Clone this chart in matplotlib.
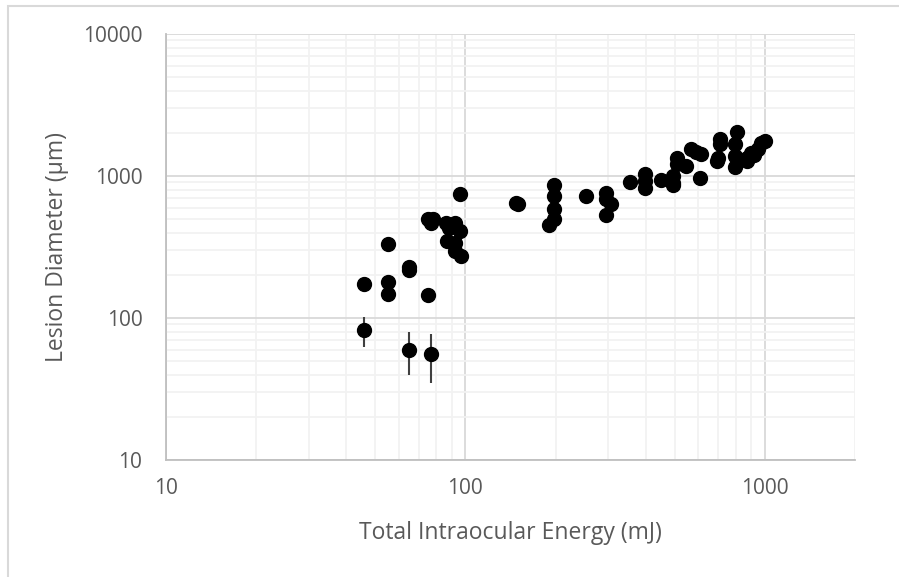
import numpy as np
import matplotlib.pyplot as plt
from matplotlib.patches import Rectangle
from matplotlib.ticker import LogLocator, FixedLocator, NullFormatter

# Total intraocular energy (mJ) and lesion diameter (um)
energy = [46, 65, 77, 46, 55, 55, 55, 65, 65, 75,
          75, 78, 77, 96, 86, 92, 88, 96, 87, 92,
          92, 97, 148, 150, 197, 197, 197, 198, 190, 252,
          295, 295, 306, 295, 355, 398, 398, 398, 449, 492,
          507, 507, 492, 492, 546, 567, 610, 607, 708, 708,
          693, 700, 809, 794, 794, 794, 869, 902, 950, 1000,
          973, 590, 870, 920]
diameter = [82, 60, 56, 173, 330, 178, 148, 230, 218, 145,
            494, 494, 470, 750, 468, 468, 430, 413, 348, 338,
            295, 272, 647, 630, 859, 721, 588, 502, 455, 721,
            753, 684, 630, 529, 906, 1026, 920, 826, 931, 887,
            1346, 1207, 1000, 860, 1175, 1542, 1420, 973, 1811, 1670,
            1273, 1346, 2040, 1670, 1383, 1163, 1273, 1459, 1559, 1760,
            1720, 1480, 1330, 1400]
diameter_err = [20, 20, 21, 20, 22, 0, 0, 0, 0, 16,
                30, 0, 0, 0, 0, 0, 0, 0, 0, 0,
                0, 0, 0, 0, 0, 0, 0, 0, 0, 0,
                0, 0, 0, 0, 0, 0, 0, 0, 0, 0,
                0, 0, 0, 0, 0, 0, 0, 0, 0, 0,
                0, 0, 0, 0, 0, 0, 0, 0, 0, 0,
                0, 0, 0, 0]

x_ticks = [10, 100, 1000]
y_ticks = [10, 100, 1000, 10000]

font = ['Open Sans', 'DejaVu Sans']
text_color = '#595959'

fig = plt.figure(figsize=(8.99, 5.77), dpi=100)
ax = fig.add_axes([166 / 899, 1 - 460 / 577, (855 - 166) / 899, (460 - 34) / 577])

# chart-area border (runs off right and bottom edge)
fig.patches.append(Rectangle((8 / 899, -0.05), 1.1, 1 - 6 / 577 + 0.05,
                             transform=fig.transFigure, fill=False,
                             edgecolor='#D9D9D9', linewidth=1.5))

ax.errorbar(energy, diameter, yerr=diameter_err, fmt='o', color='black',
            markersize=10, ecolor='#404040', elinewidth=1.5, capsize=0, zorder=3)

ax.set_xscale('log')
ax.set_yscale('log')
ax.set_xlim(10, 2000)
ax.set_ylim(10, 10000)

ax.xaxis.set_major_locator(FixedLocator(x_ticks))
ax.yaxis.set_major_locator(FixedLocator(y_ticks))
ax.xaxis.set_minor_locator(LogLocator(base=10, subs=np.arange(2, 10)))
ax.yaxis.set_minor_locator(LogLocator(base=10, subs=np.arange(2, 10)))
ax.xaxis.set_minor_formatter(NullFormatter())
ax.yaxis.set_minor_formatter(NullFormatter())
ax.set_xticklabels([str(v) for v in x_ticks])
ax.set_yticklabels([str(v) for v in y_ticks])

ax.grid(which='major', color='#D9D9D9', linewidth=1.3)
ax.grid(which='minor', color='#F2F2F2', linewidth=1.3)
ax.set_axisbelow(True)

for s in ['top', 'right']:
    ax.spines[s].set_visible(False)
for s in ['left', 'bottom']:
    ax.spines[s].set_color('#BFBFBF')
    ax.spines[s].set_linewidth(1.3)

ax.tick_params(which='both', length=0)
ax.tick_params(axis='x', pad=13)
ax.tick_params(axis='y', pad=17)
for lbl in ax.get_xticklabels() + ax.get_yticklabels():
    lbl.set_family(font)
    lbl.set_fontsize(15)
    lbl.set_color(text_color)

ax.set_xlabel('Total Intraocular Energy (mJ)', family=font, fontsize=16.5,
              color=text_color, labelpad=16)
ax.set_ylabel('Lesion Diameter (µm)', family=font, fontsize=16.5,
              color=text_color, labelpad=10)

fig.savefig('out.png', dpi=100)
plt.close(fig)
